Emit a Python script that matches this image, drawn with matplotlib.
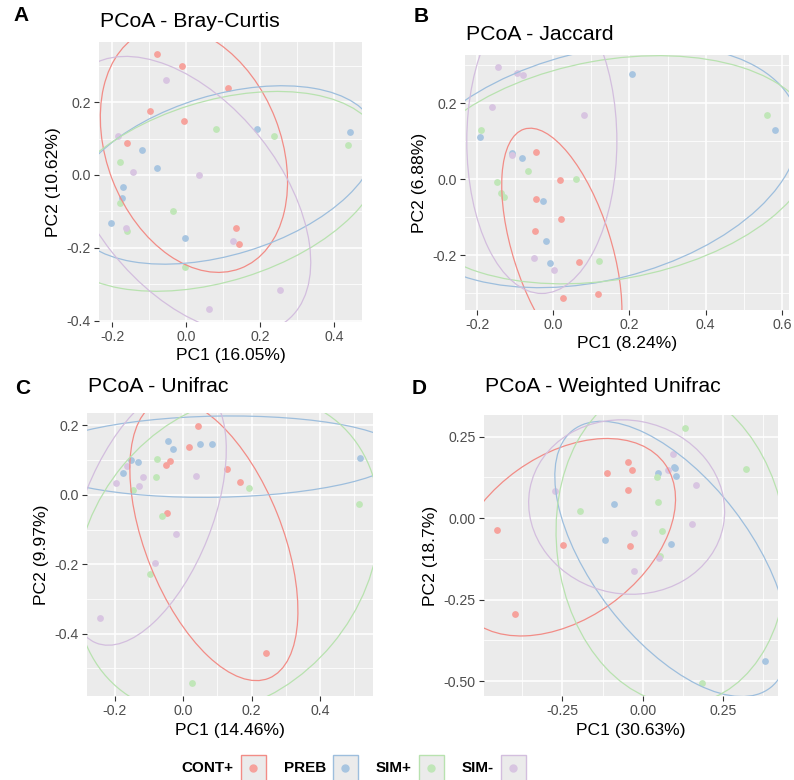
import numpy as np
import matplotlib
matplotlib.use("Agg")
import matplotlib.pyplot as plt
from matplotlib.patches import Ellipse, Rectangle
from matplotlib.lines import Line2D
from matplotlib.ticker import MultipleLocator, FormatStrFormatter

plt.rcParams['font.family'] = ['Liberation Sans', 'DejaVu Sans']
plt.rcParams['axes.unicode_minus'] = False

# groups (8 samples each, in this order inside every coordinate list)
groups = ["CONT+", "PREB", "SIM+", "SIM-"]
sample_group = np.repeat(groups, 8)

point_colors = {"CONT+": "#F6A29C", "PREB": "#A8C5E0", "SIM+": "#C0E6B8", "SIM-": "#D8C5E1"}
line_colors = {"CONT+": "#F28C86", "PREB": "#9DBEDD", "SIM+": "#B8E2AF", "SIM-": "#D3BEDE"}

# PCoA - Bray-Curtis
bray_pc1 = [-0.079, -0.011, 0.113, -0.098, -0.005, -0.161, 0.136, 0.143,
            0.443, 0.191, -0.121, -0.078, -0.170, -0.175, -0.203, -0.002,
            0.080, 0.238, 0.437, -0.180, -0.180, -0.035, -0.161, -0.004,
            -0.056, -0.184, -0.145, 0.034, -0.164, 0.126, 0.254, 0.062]
bray_pc2 = [0.331, 0.298, 0.240, 0.176, 0.149, 0.088, -0.146, -0.189,
            0.117, 0.127, 0.068, 0.019, -0.032, -0.064, -0.133, -0.174,
            0.127, 0.106, 0.081, 0.036, -0.077, -0.099, -0.153, -0.254,
            0.260, 0.106, 0.009, -0.001, -0.146, -0.182, -0.315, -0.368]

# PCoA - Jaccard
jac_pc1 = [-0.046, 0.018, -0.046, 0.021, -0.048, 0.067, 0.117, 0.026,
           0.208, -0.193, -0.108, -0.081, -0.028, -0.019, -0.009, 0.581,
           0.561, -0.189, -0.065, 0.060, -0.148, -0.136, -0.130, 0.121,
           -0.146, -0.095, -0.079, -0.160, 0.081, -0.108, -0.050, 0.002]
jac_pc2 = [0.072, -0.003, -0.053, -0.105, -0.135, -0.217, -0.302, -0.313,
           0.276, 0.111, 0.070, 0.056, -0.056, -0.162, -0.221, 0.129,
           0.169, 0.129, 0.021, 0.000, -0.007, -0.035, -0.046, -0.216,
           0.296, 0.278, 0.275, 0.191, 0.168, 0.063, -0.208, -0.238]

# PCoA - Unifrac
uni_pc1 = [0.043, 0.017, -0.039, -0.050, 0.128, 0.165, -0.046, 0.242,
           -0.044, -0.030, 0.049, 0.085, -0.151, -0.131, -0.177, 0.518,
           -0.075, -0.078, -0.147, 0.194, 0.515, -0.063, -0.096, 0.026,
           -0.165, -0.118, -0.129, -0.197, 0.038, -0.020, -0.083, -0.242]
uni_pc2 = [0.198, 0.137, 0.097, 0.087, 0.075, 0.037, -0.052, -0.455,
           0.156, 0.131, 0.147, 0.147, 0.099, 0.095, 0.063, 0.106,
           0.104, 0.050, 0.015, 0.021, -0.026, -0.062, -0.228, -0.543,
           0.082, 0.050, 0.025, 0.034, 0.053, -0.114, -0.197, -0.355]

# PCoA - Weighted Unifrac
wuni_pc1 = [-0.045, -0.033, -0.110, -0.045, -0.452, -0.248, -0.039, -0.396,
            0.100, 0.048, 0.103, -0.089, -0.117, 0.088, 0.380, 0.097,
            0.131, 0.322, 0.043, 0.046, -0.196, 0.060, 0.054, 0.185,
            0.095, 0.079, 0.165, -0.272, 0.153, -0.027, 0.051, -0.027]
wuni_pc2 = [0.172, 0.148, 0.138, 0.087, -0.036, -0.083, -0.084, -0.293,
            0.153, 0.137, 0.129, 0.044, -0.066, -0.078, -0.439, 0.156,
            0.277, 0.152, 0.127, 0.050, 0.022, -0.039, -0.115, -0.506,
            0.196, 0.148, 0.102, 0.084, -0.017, -0.045, -0.121, -0.161]

# 95% group ellipses (one entry per group, same order):
# centre, semi-axes and tilt in degrees
bray_ell_cx = [0.021, 0.10, 0.083, 0.0]
bray_ell_cy = [0.07, 0.0, -0.045, -0.055]
bray_ell_a = [0.35, 0.431, 0.466, 0.44]
bray_ell_b = [0.236, 0.219, 0.247, 0.255]
bray_ell_ang = [-69, 17.2, 17.6, -52]

jac_ell_cx = [0.0225, 0.115, 0.15, -0.03]
jac_ell_cy = [-0.18, 0.035, 0.025, 0.10]
jac_ell_a = [0.327, 0.542, 0.546, 0.40]
jac_ell_b = [0.129, 0.30, 0.288, 0.197]
jac_ell_ang = [-72.4, 14.2, 10.3, 90]

uni_ell_cx = [0.09, 0.10, 0.13, -0.105]
uni_ell_cy = [-0.13, 0.11, -0.173, -0.056]
uni_ell_a = [0.43, 0.538, 0.50, 0.40]
uni_ell_b = [0.20, 0.117, 0.40, 0.19]
uni_ell_ang = [-68, 1.0, 49.8, 68]

wuni_ell_cx = [-0.245, 0.09, 0.09, -0.05]
wuni_ell_cy = [-0.0585, -0.125, -0.08, 0.034]
wuni_ell_a = [0.386, 0.50, 0.492, 0.306]
wuni_ell_b = [0.251, 0.245, 0.357, 0.266]
wuni_ell_ang = [35.2, -52, -82.7, -10.5]

W, H = 794, 780


def px_rect(left, top, right, bottom):
    return [left / W, 1 - bottom / H, (right - left) / W, (bottom - top) / H]


panels = [
    ("A", "PCoA - Bray-Curtis", bray_pc1, bray_pc2, "PC1 (16.05%)", "PC2 (10.62%)",
     (bray_ell_cx, bray_ell_cy, bray_ell_a, bray_ell_b, bray_ell_ang),
     (99.3, 41.7, 361.7, 321.7), 0.2, "%.1f", (100, 21.5), (21.5, 15.5)),
    ("B", "PCoA - Jaccard", jac_pc1, jac_pc2, "PC1 (8.24%)", "PC2 (6.88%)",
     (jac_ell_cx, jac_ell_cy, jac_ell_a, jac_ell_b, jac_ell_ang),
     (465, 55, 789.3, 310), 0.2, "%.1f", (466.5, 35), (421, 16)),
    ("C", "PCoA - Unifrac", uni_pc1, uni_pc2, "PC1 (14.46%)", "PC2 (9.97%)",
     (uni_ell_cx, uni_ell_cy, uni_ell_a, uni_ell_b, uni_ell_ang),
     (87.3, 413.3, 373.3, 696), 0.2, "%.1f", (87.5, 386), (22.5, 388)),
    ("D", "PCoA - Weighted Unifrac", wuni_pc1, wuni_pc2, "PC1 (30.63%)", "PC2 (18.7%)",
     (wuni_ell_cx, wuni_ell_cy, wuni_ell_a, wuni_ell_b, wuni_ell_ang),
     (484, 415, 778.3, 696), 0.25, "%.2f", (485, 386), (419.5, 388)),
]

fig = plt.figure(figsize=(W / 100, H / 100), dpi=100)

for letter, title, pc1, pc2, xlab, ylab, ell, rect, step, fmt, tpos, lpos in panels:
    ax = fig.add_axes(px_rect(*rect))
    x = np.array(pc1)
    y = np.array(pc2)
    for g in groups:
        m = sample_group == g
        ax.scatter(x[m], y[m], s=24, color=point_colors[g], lw=0, zorder=2)
    for i, g in enumerate(groups):
        cx, cy, a, b, ang = (e[i] for e in ell)
        ax.add_patch(Ellipse((cx, cy), 2 * a, 2 * b, angle=ang, fill=False,
                             ec=line_colors[g], lw=0.9, zorder=3))

    xr = x.max() - x.min()
    yr = y.max() - y.min()
    ax.set_xlim(x.min() - 0.05 * xr, x.max() + 0.05 * xr)
    ax.set_ylim(y.min() - 0.05 * yr, y.max() + 0.05 * yr)

    ax.set_facecolor("#EBEBEB")
    for s in ax.spines.values():
        s.set_visible(False)
    for axis in (ax.xaxis, ax.yaxis):
        axis.set_major_locator(MultipleLocator(step))
        axis.set_minor_locator(MultipleLocator(step / 2))
        axis.set_major_formatter(FormatStrFormatter(fmt))
    ax.grid(which="major", color="white", lw=1.1)
    ax.grid(which="minor", color="white", lw=0.55)
    ax.set_axisbelow(True)
    ax.tick_params(which="major", length=3.5, width=0.8, color="#333333",
                   labelcolor="#4D4D4D", labelsize=10.2, pad=2.5)
    ax.tick_params(which="minor", length=0)
    ax.set_xlabel(xlab, fontsize=12.6, labelpad=3)
    ax.set_ylabel(ylab, fontsize=12.6, labelpad=4)

    fig.text(tpos[0] / W, 1 - tpos[1] / H, title, fontsize=15.3, ha="left", va="center")
    fig.text(lpos[0] / W, 1 - lpos[1] / H, letter, fontsize=15, fontweight="bold",
             ha="center", va="center")

# legend row at the bottom
fig.canvas.draw()
renderer = fig.canvas.get_renderer()
lx = 181.7
ly = 767.5
key_w, key_h = 25, 26
for g in groups:
    t = fig.text(lx / W, 1 - ly / H, g, fontsize=11, fontweight="bold", ha="left", va="center")
    bb = t.get_window_extent(renderer)
    kx = bb.x1 + 7
    ky_top = 755
    fig.add_artist(Rectangle((kx / W, 1 - (ky_top + key_h) / H), key_w / W, key_h / H,
                             transform=fig.transFigure, fc="#EBEBEB",
                             ec=line_colors[g], lw=1.0))
    fig.add_artist(Line2D([(kx + key_w / 2) / W], [1 - ly / H], transform=fig.transFigure,
                          marker="o", ms=5, color=point_colors[g], ls="none"))
    lx = kx + key_w + 18

fig.savefig("out.png", dpi=100)
